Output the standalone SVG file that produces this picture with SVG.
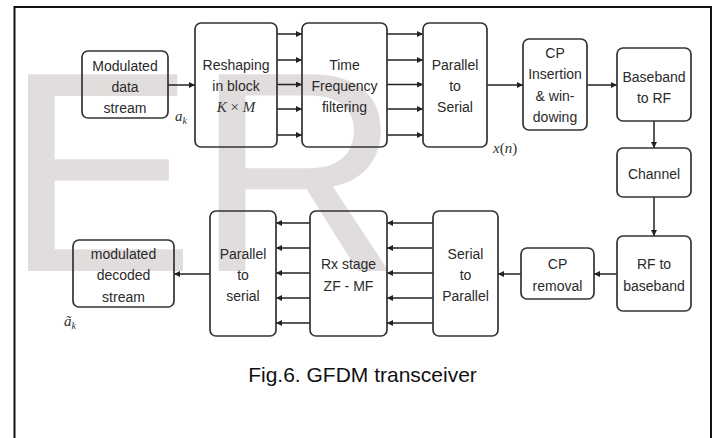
<svg xmlns="http://www.w3.org/2000/svg" width="714" height="438" viewBox="0 0 714 438">
<style>
.wm{font-family:"Liberation Sans",Arial,sans-serif;font-size:286px;fill:#e2dddd}
.box{fill:none;stroke:#333;stroke-width:1.7}
.t{font-family:"Liberation Sans",Arial,sans-serif;font-size:14px;fill:#2a2a2a;text-anchor:middle}
.m{font-family:"Liberation Serif","Times New Roman",serif;font-style:italic;font-size:15px;fill:#333}
.up{font-style:normal}
.sub{font-size:10px}
.c{stroke:#222;stroke-width:1.5;fill:none;marker-end:url(#ah)}
.frame{stroke:#111;stroke-width:2;fill:none}
.cap{font-family:"Liberation Sans",Arial,sans-serif;font-size:21px;fill:#111;text-anchor:middle}
</style>
<defs>
<marker id="ah" markerUnits="userSpaceOnUse" markerWidth="8" markerHeight="8" refX="6" refY="3" orient="auto">
<path d="M0,0 L6,3 L0,6 z" fill="#222"/>
</marker>
</defs>
<rect x="0" y="0" width="714" height="438" fill="#fff"/>
<text class="wm" x="4.5" y="271">ER</text>
<path class="frame" d="M14.5,438 V7 H711 V438"/>

<g id="connectors">
<line class="c" x1="168" y1="85" x2="195" y2="85"/>
<line class="c" x1="277" y1="34" x2="302" y2="34"/>
<line class="c" x1="277" y1="60" x2="302" y2="60"/>
<line class="c" x1="277" y1="84.5" x2="302" y2="84.5"/>
<line class="c" x1="277" y1="109" x2="302" y2="109"/>
<line class="c" x1="277" y1="135" x2="302" y2="135"/>
<line class="c" x1="387" y1="34" x2="423" y2="34"/>
<line class="c" x1="387" y1="60" x2="423" y2="60"/>
<line class="c" x1="387" y1="84.5" x2="423" y2="84.5"/>
<line class="c" x1="387" y1="109" x2="423" y2="109"/>
<line class="c" x1="387" y1="135" x2="423" y2="135"/>
<line class="c" x1="487" y1="85" x2="523" y2="85"/>
<line class="c" x1="587" y1="85" x2="617" y2="85"/>
<line class="c" x1="654" y1="121" x2="654" y2="148"/>
<line class="c" x1="654" y1="197" x2="654" y2="236"/>
<line class="c" x1="617" y1="274" x2="594" y2="274"/>
<line class="c" x1="521" y1="274" x2="498" y2="274"/>
<line class="c" x1="433" y1="223" x2="387" y2="223"/>
<line class="c" x1="433" y1="248" x2="387" y2="248"/>
<line class="c" x1="433" y1="273" x2="387" y2="273"/>
<line class="c" x1="433" y1="298" x2="387" y2="298"/>
<line class="c" x1="433" y1="323" x2="387" y2="323"/>
<line class="c" x1="310" y1="223" x2="276" y2="223"/>
<line class="c" x1="310" y1="248" x2="276" y2="248"/>
<line class="c" x1="310" y1="273" x2="276" y2="273"/>
<line class="c" x1="310" y1="298" x2="276" y2="298"/>
<line class="c" x1="310" y1="323" x2="276" y2="323"/>
<line class="c" x1="210" y1="274" x2="174" y2="274"/>
</g>

<g id="mod-data">
<rect class="box" x="82" y="51" width="86" height="67" rx="6"/>
<text class="t" x="125" y="70.5">Modulated</text>
<text class="t" x="125" y="91.5">data</text>
<text class="t" x="125" y="112.5">stream</text>
</g>
<g id="reshape">
<rect class="box" x="195" y="23" width="82" height="124" rx="6"/>
<text class="t" x="236" y="70">Reshaping</text>
<text class="t" x="236" y="91">in block</text>
<text class="m" x="236" y="111.5" text-anchor="middle">K <tspan class="up">×</tspan> M</text>
</g>
<g id="tf-filter">
<rect class="box" x="302" y="23" width="85" height="124" rx="6"/>
<text class="t" x="344.5" y="70">Time</text>
<text class="t" x="344.5" y="91">Frequency</text>
<text class="t" x="344.5" y="112">filtering</text>
</g>
<g id="p2s-tx">
<rect class="box" x="423" y="23" width="64" height="124" rx="6"/>
<text class="t" x="455" y="70">Parallel</text>
<text class="t" x="455" y="91">to</text>
<text class="t" x="455" y="112">Serial</text>
</g>
<g id="cp-ins">
<rect class="box" x="523" y="39" width="64" height="91" rx="6"/>
<text class="t" x="555" y="57.5">CP</text>
<text class="t" x="555" y="79">Insertion</text>
<text class="t" x="555" y="100.5">&amp; win-</text>
<text class="t" x="555" y="122">dowing</text>
</g>
<g id="bb2rf">
<rect class="box" x="617" y="48" width="74" height="73" rx="6"/>
<text class="t" x="654" y="81.5">Baseband</text>
<text class="t" x="654" y="102.5">to RF</text>
</g>
<g id="channel">
<rect class="box" x="617" y="148" width="74" height="49" rx="6"/>
<text class="t" x="654" y="179">Channel</text>
</g>
<g id="rf2bb">
<rect class="box" x="617" y="236" width="74" height="75" rx="6"/>
<text class="t" x="654" y="269">RF to</text>
<text class="t" x="654" y="290.5">baseband</text>
</g>
<g id="cp-rem">
<rect class="box" x="521" y="248" width="73" height="51" rx="6"/>
<text class="t" x="557.5" y="269">CP</text>
<text class="t" x="557.5" y="290.5">removal</text>
</g>
<g id="s2p">
<rect class="box" x="433" y="211" width="65" height="125" rx="6"/>
<text class="t" x="465.5" y="259">Serial</text>
<text class="t" x="465.5" y="280">to</text>
<text class="t" x="465.5" y="301">Parallel</text>
</g>
<g id="rx-stage">
<rect class="box" x="310" y="211" width="77" height="125" rx="6"/>
<text class="t" x="348.5" y="269">Rx stage</text>
<text class="t" x="348.5" y="290.5">ZF - MF</text>
</g>
<g id="p2s-rx">
<rect class="box" x="210" y="211" width="66" height="125" rx="6"/>
<text class="t" x="243" y="259">Parallel</text>
<text class="t" x="243" y="280">to</text>
<text class="t" x="243" y="301">serial</text>
</g>
<g id="mod-dec">
<rect class="box" x="73" y="240" width="101" height="67" rx="6"/>
<text class="t" x="123.5" y="259">modulated</text>
<text class="t" x="123.5" y="280">decoded</text>
<text class="t" x="123.5" y="301.5">stream</text>
</g>

<g id="labels">
<text class="m" x="175" y="121">a<tspan class="sub" dy="2.5">k</tspan></text>
<text class="m" x="493" y="153">x<tspan class="up">(</tspan>n<tspan class="up">)</tspan></text>
<text class="m" x="64" y="326">ã<tspan class="sub" dy="2.5">k</tspan></text>
</g>
<text class="cap" x="362.5" y="382">Fig.6. GFDM transceiver</text>
</svg>
